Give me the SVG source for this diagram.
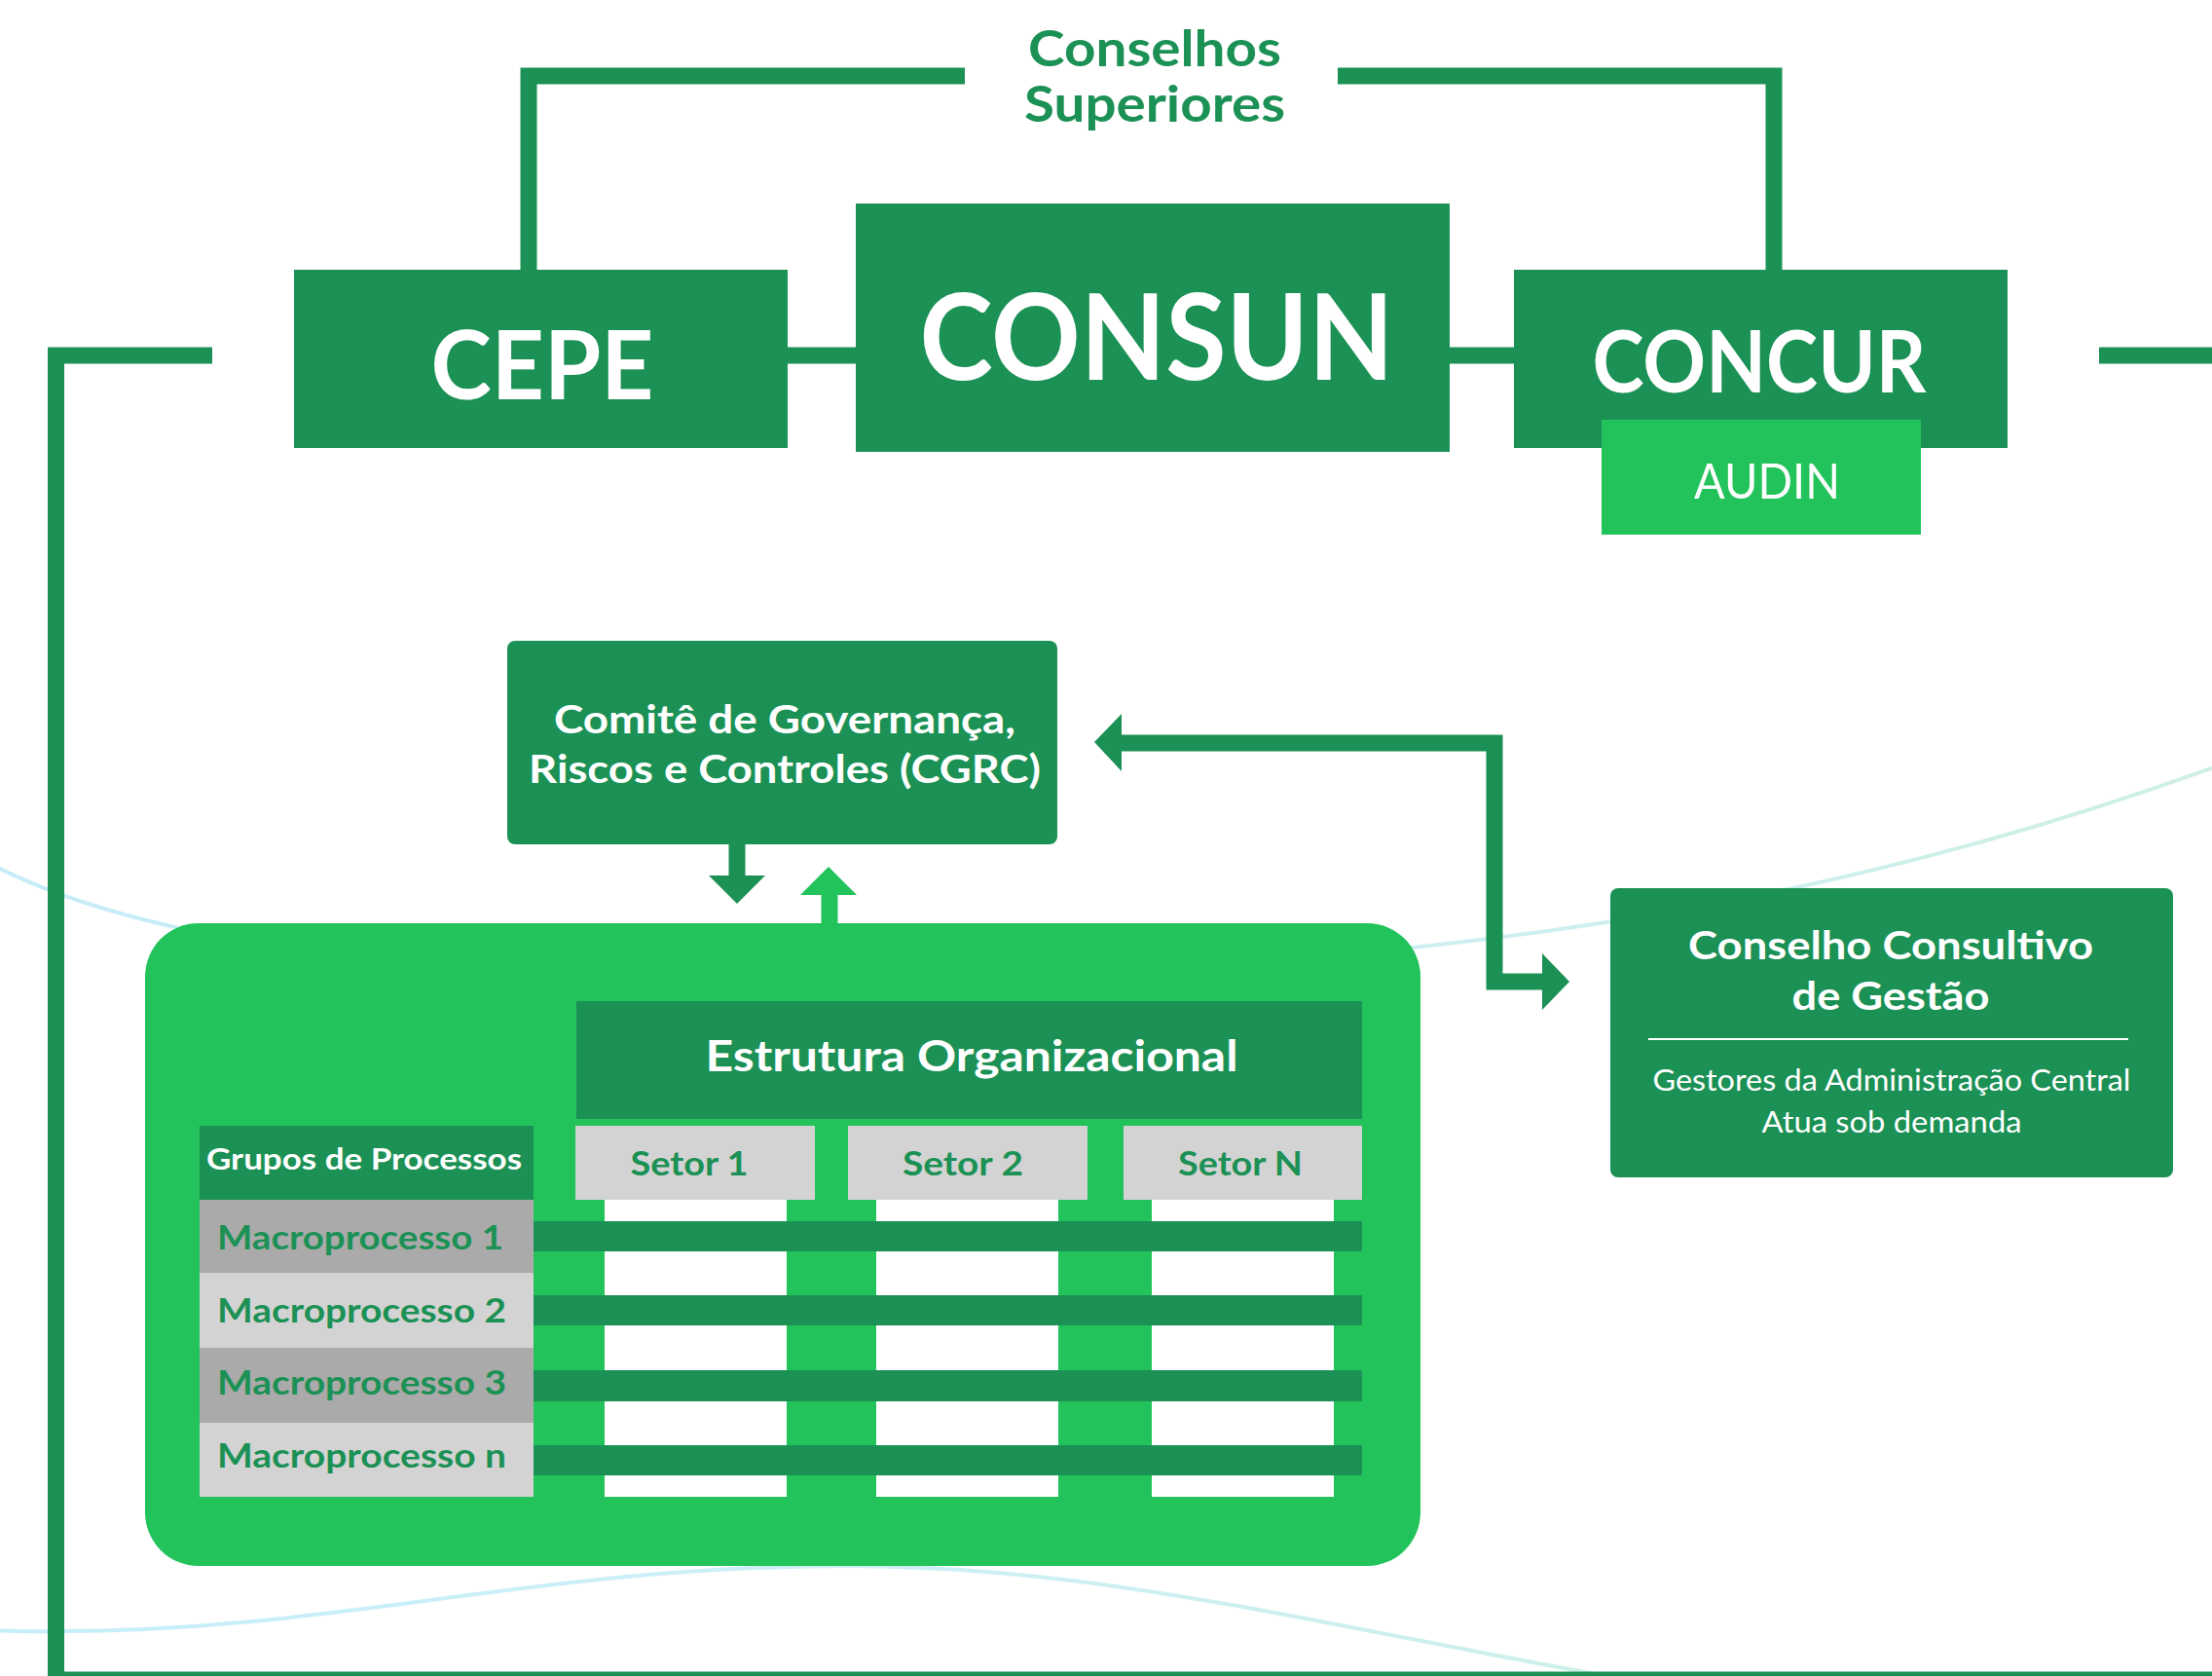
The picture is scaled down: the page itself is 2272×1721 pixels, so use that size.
<svg xmlns="http://www.w3.org/2000/svg" width="2272" height="1721" viewBox="0 0 2272 1721">
<defs>
<style>
.dk{fill:#1c9155}
.lt{fill:#22c35a}
.wt{fill:#ffffff}
.conn{fill:none;stroke:#1c9155;stroke-width:17}
.t{font-family:Lato,"Liberation Sans",sans-serif;font-weight:700;text-anchor:middle}
.tl{font-family:Lato,"Liberation Sans",sans-serif;font-weight:400;text-anchor:middle}
.ts{font-family:Lato,"Liberation Sans",sans-serif;font-weight:700}
.w{fill:#ffffff}
.g{fill:#1c9155}
</style>
<linearGradient id="c1" x1="0" y1="0" x2="1" y2="0">
<stop offset="0" stop-color="#c6ecf8"/>
<stop offset="0.6" stop-color="#cdeff3"/>
<stop offset="1" stop-color="#cfefe4"/>
</linearGradient>
<linearGradient id="c2" x1="0" y1="0" x2="1" y2="0">
<stop offset="0" stop-color="#c6eef9"/>
<stop offset="0.5" stop-color="#ccf0f7"/>
<stop offset="1" stop-color="#cdf0e8"/>
</linearGradient>
</defs>
<rect width="2272" height="1721" fill="#ffffff"/>
<g id="background-curves" fill="none" stroke-width="4">
<path stroke="url(#c1)" d="M -10 887 C 300 1050, 1100 1010, 1460 972 C 1800 935, 2050 870, 2290 782"/>
<path stroke="url(#c2)" d="M -40 1672 Q 10 1676, 58 1675 C 350 1675, 550 1608, 870 1608 C 1150 1608, 1400 1680, 1730 1735"/>
</g>
<g id="connectors">
<path class="conn" d="M 543 277 V 78 H 991"/>
<path class="conn" d="M 1374 78 H 1822 V 277"/>
<path class="conn" d="M 809 365 H 879"/>
<path class="conn" d="M 1489 365 H 1555"/>
<path class="conn" d="M 218 365 H 57.5 V 1725 H 2290"/>
<path class="conn" d="M 2156 365 H 2290"/>
<path class="conn" d="M 757 867 V 900"/>
<polygon class="dk" points="728,899 786,899 757,928"/>
<path fill="none" stroke="#22c35a" stroke-width="17" d="M 852 950 V 918"/>
<polygon class="lt" points="822,919 880,919 851,890"/>
<path class="conn" d="M 1151 763 H 1535 V 1008 H 1586"/>
<polygon class="dk" points="1124,762 1152,733 1152,792"/>
<polygon class="dk" points="1612,1008 1584,979 1584,1037"/>
</g>
<g id="conselhos-superiores">
<text class="t g" x="1186" y="68" font-size="52" textLength="260" lengthAdjust="spacingAndGlyphs">Conselhos</text>
<text class="t g" x="1186" y="125" font-size="52" textLength="268" lengthAdjust="spacingAndGlyphs">Superiores</text>
</g>
<g id="cepe">
<rect class="dk" x="302" y="277" width="507" height="183"/>
<text class="t w" x="557" y="410" font-size="98" textLength="229" lengthAdjust="spacingAndGlyphs">CEPE</text>
</g>
<g id="consun">
<rect class="dk" x="879" y="209" width="610" height="255"/>
<text class="t w" x="1188" y="390" font-size="122" textLength="487" lengthAdjust="spacingAndGlyphs">CONSUN</text>
</g>
<g id="concur">
<rect class="dk" x="1555" y="277" width="507" height="183"/>
<text class="t w" x="1807" y="403" font-size="88" textLength="343" lengthAdjust="spacingAndGlyphs">CONCUR</text>
</g>
<g id="audin">
<rect class="lt" x="1645" y="431" width="328" height="118"/>
<text class="tl w" x="1815" y="512" font-size="50" font-weight="500" textLength="150" lengthAdjust="spacingAndGlyphs">AUDIN</text>
</g>
<g id="cgrc">
<rect class="dk" x="521" y="658" width="565" height="209" rx="8"/>
<text class="t w" x="806" y="753" font-size="40" textLength="474" lengthAdjust="spacingAndGlyphs">Comitê de Governança,</text>
<text class="t w" x="806" y="804" font-size="40" textLength="526" lengthAdjust="spacingAndGlyphs">Riscos e Controles (CGRC)</text>
</g>
<g id="conselho-consultivo">
<rect class="dk" x="1654" y="912" width="578" height="297" rx="8"/>
<text class="t w" x="1942" y="985" font-size="41" textLength="416" lengthAdjust="spacingAndGlyphs">Conselho Consultivo</text>
<text class="t w" x="1942" y="1037" font-size="41" textLength="203" lengthAdjust="spacingAndGlyphs">de Gestão</text>
<rect class="wt" x="1693" y="1066" width="493" height="2"/>
<text class="tl w" x="1943" y="1120" font-size="31" textLength="491" lengthAdjust="spacingAndGlyphs">Gestores da Administração Central</text>
<text class="tl w" x="1943" y="1163" font-size="31" textLength="267" lengthAdjust="spacingAndGlyphs">Atua sob demanda</text>
</g>
<g id="processos-box">
<rect class="lt" x="149" y="948" width="1310" height="660" rx="55"/>
</g>
<g id="estrutura-organizacional">
<rect class="dk" x="592" y="1028" width="807" height="121"/>
<text class="t w" x="998" y="1100" font-size="44" textLength="547" lengthAdjust="spacingAndGlyphs">Estrutura Organizacional</text>
</g>
<g id="setor-columns">
<rect class="wt" x="621" y="1232" width="187" height="305"/>
<rect class="wt" x="900" y="1232" width="187" height="305"/>
<rect class="wt" x="1183" y="1232" width="187" height="305"/>
</g>
<g id="setor-1">
<rect fill="#d3d3d3" x="591" y="1156" width="246" height="76"/>
<text class="t g" x="708" y="1207" font-size="35" textLength="121" lengthAdjust="spacingAndGlyphs">Setor 1</text>
</g>
<g id="setor-2">
<rect fill="#d3d3d3" x="871" y="1156" width="246" height="76"/>
<text class="t g" x="989" y="1207" font-size="35" textLength="124" lengthAdjust="spacingAndGlyphs">Setor 2</text>
</g>
<g id="setor-n">
<rect fill="#d3d3d3" x="1154" y="1156" width="245" height="76"/>
<text class="t g" x="1274" y="1207" font-size="35" textLength="128" lengthAdjust="spacingAndGlyphs">Setor N</text>
</g>
<g id="grupos-de-processos">
<rect class="dk" x="205" y="1156" width="343" height="76"/>
<text class="t w" x="374" y="1201" font-size="30" textLength="324" lengthAdjust="spacingAndGlyphs">Grupos de Processos</text>
</g>
<g id="macroprocesso-bars">
<rect class="dk" x="548" y="1254" width="851" height="31"/>
<rect class="dk" x="548" y="1330" width="851" height="31"/>
<rect class="dk" x="548" y="1407" width="851" height="32"/>
<rect class="dk" x="548" y="1484" width="851" height="31"/>
</g>
<g id="macroprocesso-1">
<rect fill="#aaaaaa" x="205" y="1232" width="343" height="75"/>
<text class="ts g" x="223" y="1283" font-size="34" textLength="294" lengthAdjust="spacingAndGlyphs">Macroprocesso 1</text>
</g>
<g id="macroprocesso-2">
<rect fill="#d3d3d3" x="205" y="1307" width="343" height="77"/>
<text class="ts g" x="223" y="1358" font-size="34" textLength="297" lengthAdjust="spacingAndGlyphs">Macroprocesso 2</text>
</g>
<g id="macroprocesso-3">
<rect fill="#aaaaaa" x="205" y="1384" width="343" height="77"/>
<text class="ts g" x="223" y="1432" font-size="34" textLength="297" lengthAdjust="spacingAndGlyphs">Macroprocesso 3</text>
</g>
<g id="macroprocesso-n">
<rect fill="#d3d3d3" x="205" y="1461" width="343" height="76"/>
<text class="ts g" x="223" y="1507" font-size="34" textLength="297" lengthAdjust="spacingAndGlyphs">Macroprocesso n</text>
</g>
</svg>
